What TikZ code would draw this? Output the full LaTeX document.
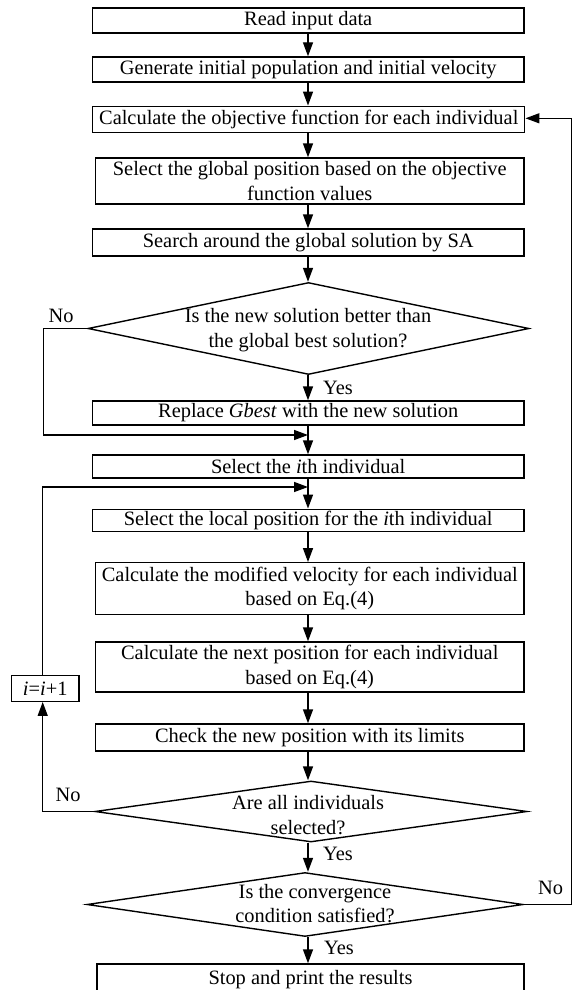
\documentclass[tikz,border=0pt]{standalone}
\usepackage{fontspec}
\setmainfont{Liberation Serif}
\usetikzlibrary{arrows.meta,shapes.geometric}
\begin{document}
\begin{tikzpicture}[x=1pt,y=-1pt,
  line width=1.4pt,
  font=\fontsize{20.4}{24.5}\selectfont,
  arr/.style={-{Triangle[length=14pt,width=10pt]}},
  pbox/.style={draw, rectangle, inner sep=0pt, align=center},
  dia/.style={draw, diamond, inner sep=0pt},
  lbl/.style={inner sep=0pt, align=center}]
\useasboundingbox (0,0) rectangle (575,990);
% process boxes
\node[pbox, minimum width=431.5pt, minimum height=25pt] (b1) at (308.25,20.5) {Read input data};
\node[pbox, minimum width=431.5pt, minimum height=25pt] (b2) at (308.25,69.5) {Generate initial population and initial velocity};
\node[pbox, minimum width=432pt, minimum height=26.5pt] (b3) at (308.75,119.5) {Calculate the objective function for each individual};
\node[pbox, minimum width=428.5pt, minimum height=46pt] (b4) at (309.75,181) {Select the global position based on the objective\\function values};
\node[pbox, minimum width=431.5pt, minimum height=27pt] (b5) at (308.25,242.5) {Search around the global solution by SA};
\node[dia, minimum width=441pt, minimum height=92pt] (d1) at (308.5,328.5) {};
\node[lbl] (d1t) at (308,330) {Is the new solution better than\\the global best solution?};
\node[pbox, minimum width=431.5pt, minimum height=24pt] (b7) at (308.25,413) {Replace \textit{Gbest} with the new solution};
\node[pbox, minimum width=431.5pt, minimum height=23pt] (b9) at (308.25,466.5) {Select the \textit{i}th individual};
\node[pbox, minimum width=431.5pt, minimum height=22.5pt] (b11) at (308.25,520.5) {Select the local position for the \textit{i}th individual};
\node[pbox, minimum width=428.5pt, minimum height=51.5pt] (b12) at (309.75,588.5) {Calculate the modified velocity for each individual\\based on Eq.(4)};
\node[pbox, minimum width=428.5pt, minimum height=50pt] (b13) at (309.75,667) {Calculate the next position for each individual\\based on Eq.(4)};
\node[pbox, minimum width=67.5pt, minimum height=25.5pt] (inc) at (45.25,688.5) {\textit{i}=\textit{i}+1};
\node[pbox, minimum width=428.5pt, minimum height=27pt] (b15) at (309.75,737.5) {Check the new position with its limits};
\node[dia, minimum width=432pt, minimum height=61pt] (d2) at (311,811.5) {};
\node[lbl] (d2t) at (308,815) {Are all individuals\\selected?};
\node[dia, minimum width=436pt, minimum height=64pt] (d3) at (305,904.5) {};
\node[lbl] (d3t) at (315,903.5) {Is the convergence\\condition satisfied?};
\node[pbox, minimum width=427pt, minimum height=32pt] (b18) at (310.5,980) {Stop and print the results};
% labels
\node[lbl] (no1) at (61,316) {No};
\node[lbl] (no2) at (68,795) {No};
\node[lbl] (no3) at (550.5,888) {No};
\node[lbl] (yes1) at (338,388) {Yes};
\node[lbl] (yes2) at (338,854) {Yes};
\node[lbl] (yes3) at (339,948) {Yes};
% junction points
\coordinate (m1) at (308,435);
\coordinate (m2) at (308,487);
\coordinate (lx1) at (43.3,0);
\coordinate (lx2) at (42.7,0);
\coordinate (rx) at (571.7,0);
% main flow
\draw[arr] (b1.south -| m1) -- (b2.north -| m1);
\draw[arr] (b2.south -| m1) -- (b3.north -| m1);
\draw[arr] (b3.south -| m1) -- (b4.north -| m1);
\draw[arr] (b4.south -| m1) -- (b5.north -| m1);
\draw[arr] (b5.south -| m1) -- (d1.north -| m1);
\draw[arr] (d1.south -| m1) -- (b7.north -| m1);
\draw[arr] (b7.south -| m1) -- (b9.north -| m1);
\draw[arr] (b9.south -| m1) -- (b11.north -| m1);
\draw[arr] (b11.south -| m1) -- (b12.north -| m1);
\draw[arr] (b12.south -| m1) -- (b13.north -| m1);
\draw[arr] (b13.south -| m1) -- (b15.north -| m1);
\draw[arr] (b15.south -| m1) -- (d2.north -| m1);
\draw[arr] (d2.south -| m1) -- (d3.north -| m1);
\draw[arr] (d3.south -| m1) -- (b18.north -| m1);
% loops
\draw[arr] (d1.west) -- (d1.west -| lx1) -- (m1 -| lx1) -- (m1);
\draw[arr] (d2.west) -- (d2.west -| lx2) -- (inc.south -| lx2);
\draw[arr] (inc.north -| lx2) -- (m2 -| lx2) -- (m2);
\draw[arr] (d3.east) -- (d3.east -| rx) -- (rx |- 0,118.3) -- (b3.east |- 0,118.3);
\end{tikzpicture}
\end{document}
